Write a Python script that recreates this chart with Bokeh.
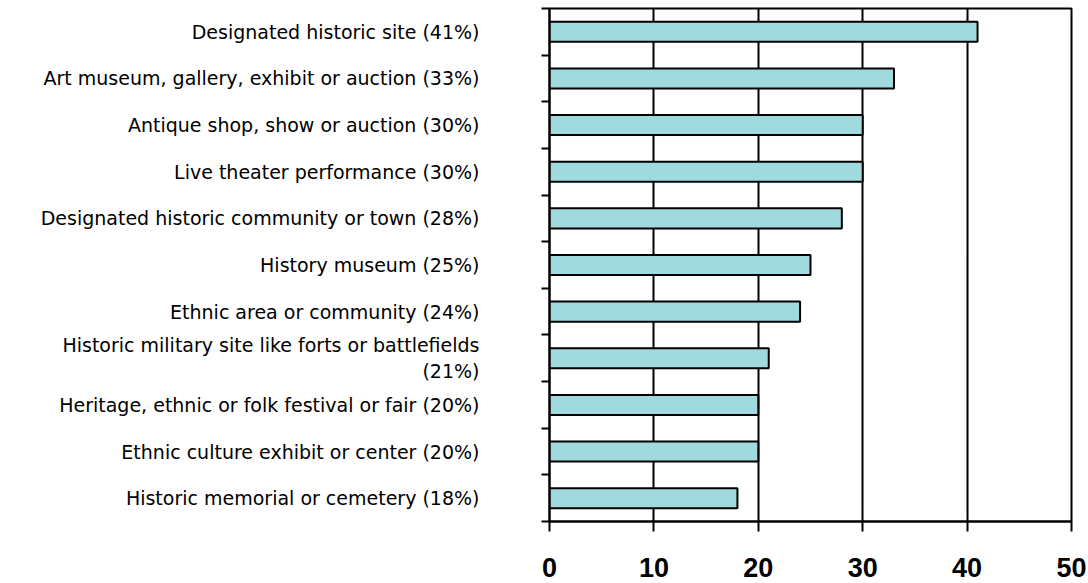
from bokeh.plotting import figure
from bokeh.models import FixedTicker, Range1d
from bokeh.embed import file_html
from bokeh.resources import INLINE
import numpy as np

categories = [
    "Designated historic site (41%)",
    "Art museum, gallery, exhibit or auction (33%)",
    "Antique shop, show or auction (30%)",
    "Live theater performance (30%)",
    "Designated historic community or town (28%)",
    "History museum (25%)",
    "Ethnic area or community (24%)",
    "Historic military site like forts or battlefields\n(21%)",
    "Heritage, ethnic or folk festival or fair (20%)",
    "Ethnic culture exhibit or center (20%)",
    "Historic memorial or cemetery (18%)",
]
values = [41, 33, 30, 30, 28, 25, 24, 21, 20, 20, 18]
x_ticks = [0, 10, 20, 30, 40, 50]

n = len(categories)
ypos = (n - 0.5 - np.arange(n)).tolist()

p = figure(width=1088, height=583, output_backend="svg", toolbar_location=None,
           x_range=Range1d(0, 50), y_range=Range1d(0, n),
           min_border_left=549, min_border_right=17, min_border_top=8, min_border_bottom=62)

p.hbar(y=ypos, right=values, left=0, height=0.43, fill_color="#A1DADE",
       line_color="black", line_width=2)

p.outline_line_color = "black"
p.outline_line_width = 2
p.outline_line_alpha = 1

# x axis
p.xaxis.ticker = FixedTicker(ticks=x_ticks)
p.xaxis.axis_line_width = 2
p.xaxis.axis_line_color = "black"
p.xaxis.major_tick_line_width = 2
p.xaxis.major_tick_line_color = "black"
p.xaxis.major_tick_in = 0
p.xaxis.major_tick_out = 10
p.xaxis.minor_tick_line_color = None
p.xaxis.major_label_text_font = "Liberation Sans"
p.xaxis.major_label_text_font_style = "bold"
p.xaxis.major_label_text_font_size = "27px"
p.xaxis.major_label_text_color = "black"
p.xaxis.major_label_standoff = 26

# y axis
p.yaxis.ticker = FixedTicker(ticks=ypos, minor_ticks=list(range(n + 1)))
p.yaxis.major_label_overrides = {y: c for y, c in zip(ypos, categories)}
p.yaxis.axis_line_width = 2
p.yaxis.axis_line_color = "black"
p.yaxis.major_tick_line_color = None
p.yaxis.major_tick_in = 0
p.yaxis.major_tick_out = 0
p.yaxis.minor_tick_line_color = "black"
p.yaxis.minor_tick_line_width = 2
p.yaxis.minor_tick_in = 0
p.yaxis.minor_tick_out = 8
p.yaxis.major_label_text_font = "DejaVu Sans"
p.yaxis.major_label_text_font_size = "19px"
p.yaxis.major_label_text_color = "black"
p.yaxis.major_label_standoff = 62

p.xgrid.grid_line_color = "black"
p.xgrid.grid_line_width = 2
p.ygrid.grid_line_color = None

open("out.html", "w").write(file_html(p, INLINE))
